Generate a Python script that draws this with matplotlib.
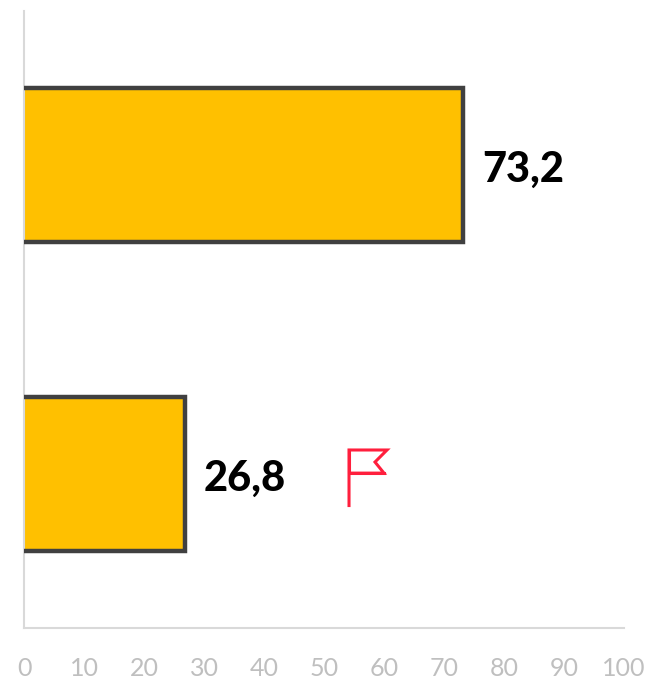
import matplotlib
matplotlib.use("Agg")
import matplotlib.pyplot as plt

W, H = 649, 682
categories = ["A", "B"]
values = [73.2, 26.8]
labels = ["73,2", "26,8"]
ticks = list(range(0, 101, 10))
flag_x = [54.17, 54.17, 60.5, 58.5, 60.0, 54.17]
flag_y = [1.108, 0.923, 0.923, 0.962, 0.998, 0.998]

plt.rcParams['font.family'] = ['Lato', 'DejaVu Sans']
fig = plt.figure(figsize=(W/100, H/100), dpi=100)
x0, x1 = 24, 624
ytop, ybot = 11, 628
ax = fig.add_axes([x0/W, 1-ybot/H, (x1-x0)/W, (ybot-ytop)/H])
ax.set_xlim(0, 100)
ax.set_ylim(1.5, -0.5)
bar_h = 0.5
positions = range(len(values))
ax.barh(list(positions), values, height=bar_h, color="#FFC000", linewidth=0, zorder=2)
for i, v, l in zip(positions, values, labels):
    ax.plot([0, v, v, 0], [i - bar_h/2, i - bar_h/2, i + bar_h/2, i + bar_h/2],
            color="#404040", lw=3.2, solid_joinstyle="miter", solid_capstyle="butt", zorder=3)
    ax.text(v + 3.1, i + 0.015, l, va="center", ha="left", fontsize=30, fontweight=900, color="black")
ax.set_xticks(ticks)
ax.set_yticks([])
ax.tick_params(axis="x", length=0, pad=21, labelsize=18, labelcolor="#BFBFBF")
for s in ("top", "right"):
    ax.spines[s].set_visible(False)
for s in ("left", "bottom"):
    ax.spines[s].set_color("#D9D9D9")
    ax.spines[s].set_linewidth(1.5)
ax.plot(flag_x, flag_y, color="#FF1F3D", lw=2.2, solid_joinstyle="miter", solid_capstyle="butt", zorder=4)
ax.plot(flag_x[4:] + flag_x[1:2], flag_y[4:] + flag_y[1:2], color="#FF1F3D", lw=2.2, zorder=4)
fig.savefig("out.png", dpi=100)
